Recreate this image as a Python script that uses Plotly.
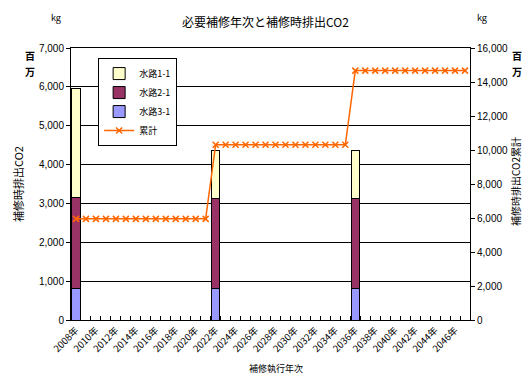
import plotly.graph_objects as go

years = list(range(2008, 2048))
bar_years = [2008, 2022, 2036]
suiro11 = [2790, 1240, 1240]
suiro21 = [2360, 2320, 2320]
suiro31 = [800, 800, 800]
# cumulative total: 2008-2021, 2022-2035, 2036-2047
cumulative = [5950] * 14 + [10310] * 14 + [14670] * 12
tick_years = list(range(2008, 2047, 2))
tick_text = [f"{y}年" for y in tick_years]

FONT = "Liberation Sans, Noto Sans CJK JP"
JP = "Noto Sans CJK JP"
NUM = "Liberation Sans Narrow, Liberation Sans"

fig = go.Figure()
fig.add_trace(go.Bar(x=bar_years, y=suiro31, name="水路3-1",
                     marker=dict(color="#9999FF", line=dict(color="#000000", width=1)),
                     legendrank=3, width=0.85))
fig.add_trace(go.Bar(x=bar_years, y=suiro21, name="水路2-1",
                     marker=dict(color="#993366", line=dict(color="#000000", width=1)),
                     legendrank=2, width=0.85))
fig.add_trace(go.Bar(x=bar_years, y=suiro11, name="水路1-1",
                     marker=dict(color="#FFFFCC", line=dict(color="#000000", width=1)),
                     legendrank=1, width=0.85))
fig.add_trace(go.Scatter(x=years, y=cumulative, name="累計", yaxis="y2", mode="lines+markers",
                         line=dict(color="#FF6600", width=1.5),
                         marker=dict(symbol="x-thin", size=6, line=dict(color="#FF6600", width=1.5)),
                         legendrank=4))

fig.update_layout(
    width=524, height=376,
    margin=dict(l=71, r=54, t=48, b=56),
    paper_bgcolor="white", plot_bgcolor="white",
    barmode="stack",
    font=dict(family=FONT, size=9, color="black"),
    showlegend=True,
    legend=dict(x=0.068, y=0.963, xanchor="left", yanchor="top", bgcolor="white",
                bordercolor="black", borderwidth=1, font=dict(family=JP, size=9),
                traceorder="normal", tracegroupgap=0, itemwidth=30),
    xaxis=dict(range=[2007.5, 2047.5], tickmode="array", tickvals=tick_years, ticktext=tick_text,
               tickangle=-45, ticks="", showgrid=False, showline=True, linecolor="black", linewidth=1,
               mirror=True, zeroline=False, tickfont=dict(family=JP, size=9.5),
               minor=dict(ticks="inside", tick0=2007.5, dtick=1, ticklen=4, tickcolor="black", showgrid=False)),
    yaxis=dict(range=[0, 7000], dtick=1000, tickformat=",d", showgrid=True, gridcolor="#000000",
               gridwidth=1, showline=True, linecolor="black", linewidth=1, mirror=True,
               ticks="outside", ticklen=4, tickcolor="black", zeroline=False,
               tickfont=dict(family=NUM, size=10)),
    yaxis2=dict(range=[0, 16000], dtick=2000, tickformat=",d", overlaying="y", side="right",
                showgrid=False, showline=True, linecolor="black", linewidth=1,
                ticks="outside", ticklen=4, tickcolor="black", zeroline=False,
                tickfont=dict(family=NUM, size=10)),
)


def px_ann(text, x, y, size=9, angle=0, bold=False):
    xp = (x - 71) / (524 - 71 - 54)
    yp = (376 - 56 - y) / (376 - 48 - 56)
    t = f"<b>{text}</b>" if bold else text
    return dict(text=t, x=xp, y=yp, xref="paper", yref="paper", showarrow=False,
                xanchor="center", yanchor="middle", textangle=angle, borderpad=0,
                font=dict(family=JP, size=size, color="black"))


fig.add_annotation(px_ann("必要補修年次と補修時排出CO2", 265, 22, size=12))
fig.add_annotation(px_ann("kg", 56, 18, size=9))
fig.add_annotation(px_ann("kg", 482, 18, size=9))
fig.add_annotation(px_ann("百", 30, 55, size=10, bold=True))
fig.add_annotation(px_ann("万", 30, 71, size=10, bold=True))
fig.add_annotation(px_ann("百", 517, 55, size=10, bold=True))
fig.add_annotation(px_ann("万", 517, 71, size=10, bold=True))
fig.add_annotation(px_ann("補修時排出CO2", 18, 184, size=11, angle=-90))
fig.add_annotation(px_ann("補修時排出CO2累計", 515, 182, size=10, angle=-90))
fig.add_annotation(px_ann("補修執行年次", 276, 368, size=9))

fig.write_html("out.html")
